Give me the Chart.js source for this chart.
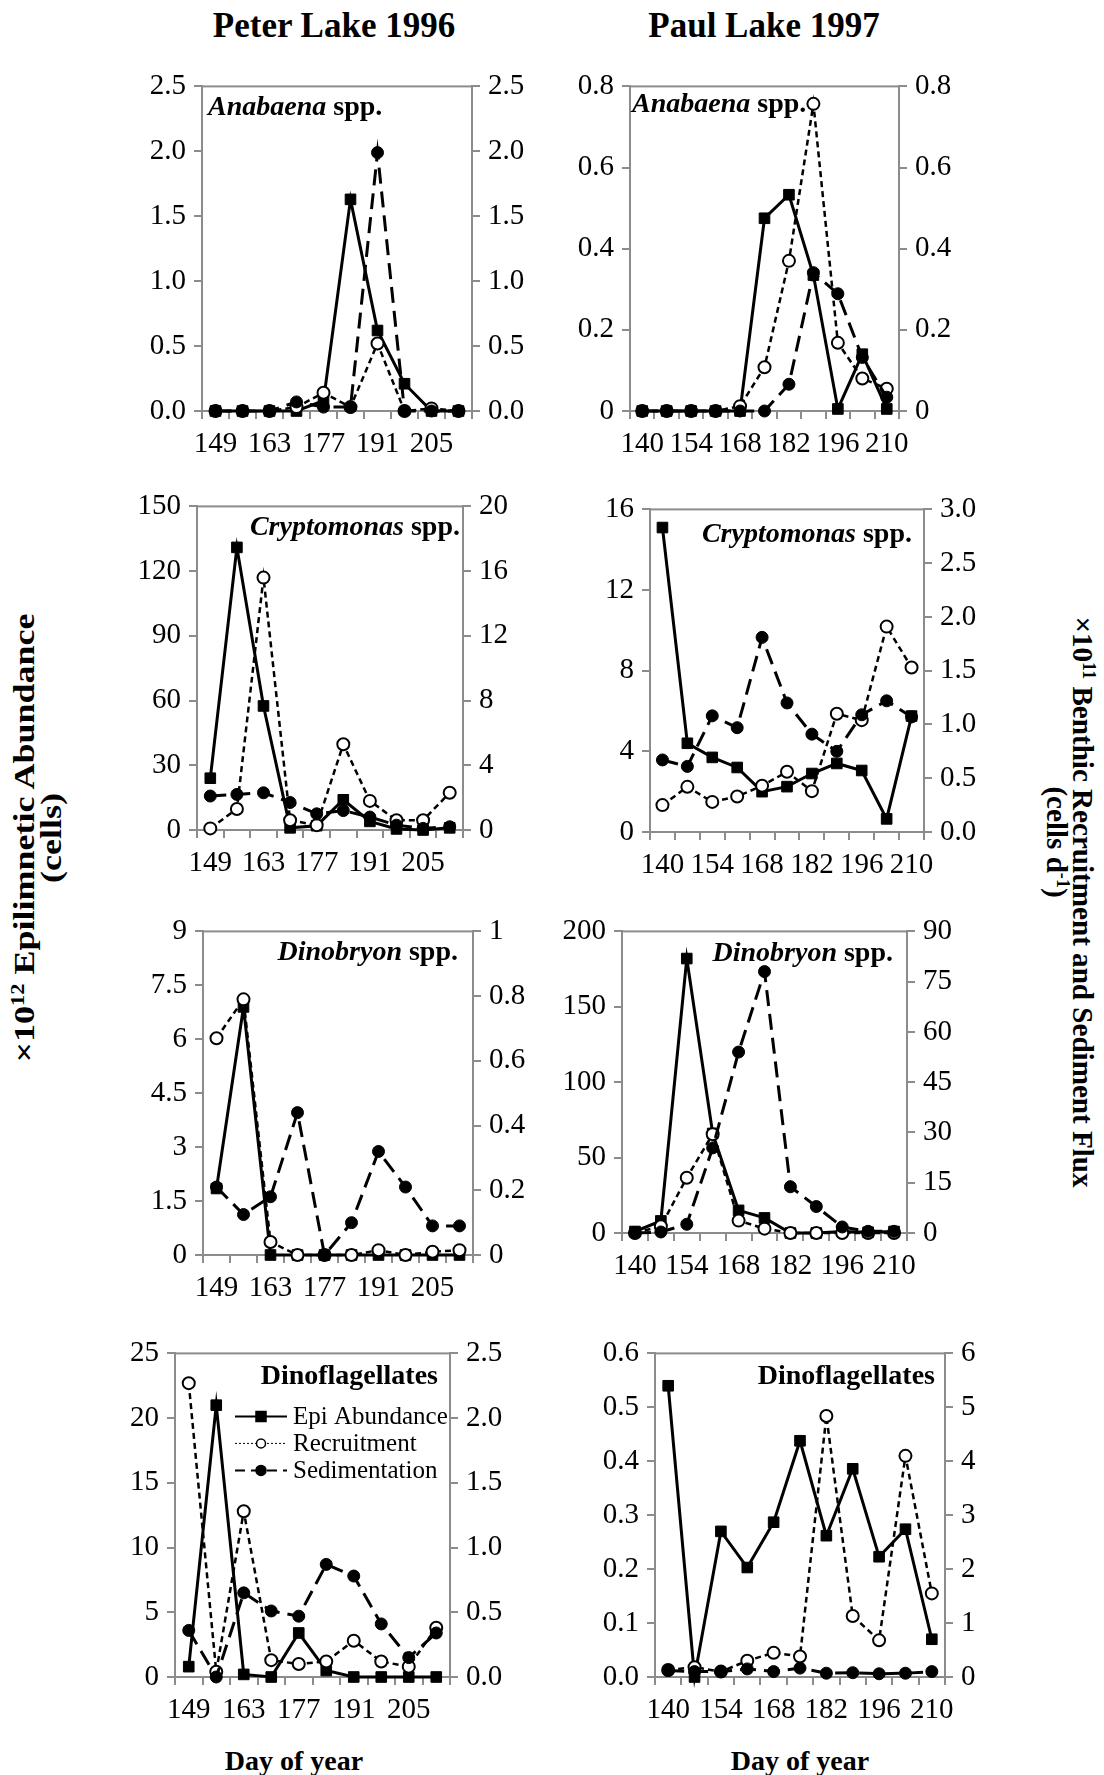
<!DOCTYPE html>
<html>
<head>
<meta charset="utf-8">
<script src="https://cdn.jsdelivr.net/npm/chart.js@4.4.1/dist/chart.umd.min.js"></script>
<style>
  body { margin: 0; width: 1104px; height: 1775px; background: #fff; position: relative; overflow: hidden;
         font-family: 'Liberation Serif', serif; color: #000; }
  canvas { position: absolute; }
  .txt { position: absolute; white-space: nowrap; line-height: 1; font-weight: bold; }
  .head { font-size: 35px; transform: translate(-50%, -50%); }
  .xlab { font-size: 28px; transform: translate(-50%, -50%); }
  .vlab { font-size: 30px; }
  .ptitle { font-size: 28px; }
  sup { font-size: 62%; vertical-align: 0.55em; line-height: 0; }
</style>
</head>
<body>
<div class="txt head" style="left:334px; top:25px">Peter Lake 1996</div>
<div class="txt head" style="left:764px; top:25px">Paul Lake 1997</div>
<div class="txt xlab" style="left:294px; top:1761px">Day of year</div>
<div class="txt xlab" style="left:800px; top:1761px">Day of year</div>
<div class="txt vlab" style="left:24px; top:838px; transform: translate(-50%,-50%) rotate(-90deg) scaleX(1.2)">×10<sup>12</sup> Epilimnetic Abundance</div>
<div class="txt vlab" style="left:51px; top:838px; transform: translate(-50%,-50%) rotate(-90deg) scaleX(1.2)">(cells)</div>
<div class="txt vlab" style="left:1083px; top:902px; transform: translate(-50%,-50%) rotate(90deg) scaleX(0.97)">×10<sup>11</sup> Benthic Recruitment and Sediment Flux</div>
<div class="txt vlab" style="left:1057px; top:842px; transform: translate(-50%,-50%) rotate(90deg) scaleX(0.97)">(cells d<sup>-1</sup>)</div>

<script>
// ── Data ──
const peterDays = [149, 156, 163, 170, 177, 184, 191, 198, 205, 212];
const paulDays = [140, 147, 154, 161, 168, 175, 182, 189, 196, 203, 210];
const seriesNames = ["Epi Abundance", "Recruitment", "Sedimentation"];

// Peter Lake 1996 (epi on left axis, recruitment + sedimentation on right axis)
const peterAnaEpi = [0, 0, 0, 0, 0.08, 1.63, 0.62, 0.21, 0, 0];
const peterAnaRec = [0, 0, 0, 0.03, 0.14, 0.03, 0.52, 0, 0.02, 0];
const peterAnaSed = [0, 0, 0, 0.07, 0.03, 0.03, 1.99, 0, 0, 0];

const peterCryEpi = [24, 131, 57.5, 1, 2, 14, 4, 0.5, 0, 1];
const peterCryRec = [0.1, 1.3, 15.6, 0.6, 0.3, 5.3, 1.8, 0.6, 0.6, 2.3];
const peterCrySed = [2.1, 2.2, 2.3, 1.7, 1.0, 1.2, 0.8, 0.3, 0.1, 0.2];

const peterDinEpi = [1.85, 6.9, 0, 0, 0, 0, 0, 0, 0, 0];
const peterDinRec = [0.67, 0.79, 0.04, 0, 0, 0, 0.015, 0, 0.01, 0.015];
const peterDinSed = [0.21, 0.125, 0.18, 0.44, 0, 0.1, 0.32, 0.21, 0.09, 0.09];

const peterDfEpi = [0.8, 21, 0.2, 0, 3.4, 0.5, 0, 0, 0, 0];
const peterDfRec = [2.27, 0.04, 1.28, 0.13, 0.1, 0.12, 0.28, 0.12, 0.08, 0.38];
const peterDfSed = [0.36, 0, 0.65, 0.51, 0.47, 0.87, 0.78, 0.41, 0.15, 0.34];

// Paul Lake 1997
const paulAnaEpi = [0, 0, 0, 0, 0, 0.475, 0.533, 0.335, 0.005, 0.14, 0.005];
const paulAnaRec = [0, 0, 0, 0, 0.012, 0.108, 0.37, 0.757, 0.168, 0.08, 0.055];
const paulAnaSed = [0, 0, 0, 0, 0, 0, 0.066, 0.341, 0.289, 0.132, 0.034];

const paulCryEpi = [15.1, 4.4, 3.7, 3.2, 2.0, 2.25, 2.9, 3.4, 3.05, 0.65, 5.75];
const paulCryRec = [0.25, 0.42, 0.28, 0.33, 0.43, 0.56, 0.38, 1.10, 1.04, 1.91, 1.53];
const paulCrySed = [0.67, 0.61, 1.08, 0.97, 1.81, 1.20, 0.91, 0.75, 1.09, 1.22, 1.07];

const paulDinEpi = [1, 8, 182, 66, 15, 10, 0, 0, 1, 0.5, 1];
const paulDinRec = [0, 2, 16.5, 29.5, 3.7, 1.3, 0, 0, 0, 0, 0];
const paulDinSed = [0, 0.3, 2.6, 25.4, 54, 78, 13.8, 7.9, 1.8, 0.5, 0.5];

const paulDfEpi = [0.54, 0, 0.27, 0.203, 0.287, 0.438, 0.262, 0.386, 0.223, 0.274, 0.07];
const paulDfRec = [0.13, 0.18, 0.1, 0.3, 0.45, 0.38, 4.84, 1.13, 0.68, 4.1, 1.55];
const paulDfSed = [0.12, 0.1, 0.1, 0.15, 0.1, 0.165, 0.07, 0.08, 0.06, 0.07, 0.1];

// ── Chart defaults ──
Chart.defaults.font.family = "'Liberation Serif', serif";
Chart.defaults.font.size = 29;
Chart.defaults.color = "#000";

const AXIS = "#8c8c8c";
const LW = 76, RW = 76, PT = 22, XH = 52;

const fix1 = v => (Math.round(v * 10) / 10).toFixed(1);
const trim = v => String(Math.round(v * 10) / 10);

// ── Plot frame ──
const framePlugin = {
  id: "frame",
  beforeDatasetsDraw(chart) {
    const { ctx, chartArea: a } = chart;
    ctx.save();
    ctx.strokeStyle = AXIS;
    ctx.lineWidth = 2;
    ctx.strokeRect(a.left, a.top, a.right - a.left, a.bottom - a.top);
    ctx.restore();
  }
};

// ── Legend drawn inside the plot (Excel style: line with marker) ──
const keyPlugin = {
  id: "seriesKey",
  afterDatasetsDraw(chart, args, opts) {
    if (!opts.show) return;
    const { ctx, chartArea: a } = chart;
    const x0 = a.left + 60, x1 = a.left + 112, tx = a.left + 118;
    const styles = [
      { dash: [], width: 2, shape: "rect", fill: "#000" },
      { dash: [2, 2], width: 1, shape: "circle", fill: "#fff" },
      { dash: [10, 6], width: 2, shape: "circle", fill: "#000" },
    ];
    ctx.save();
    seriesNames.forEach((name, i) => {
      const y = a.top + 63 + i * 27;
      const s = styles[i];
      ctx.strokeStyle = "#000";
      ctx.lineWidth = s.width;
      ctx.setLineDash(s.dash);
      ctx.beginPath(); ctx.moveTo(x0, y); ctx.lineTo(x1, y); ctx.stroke();
      ctx.setLineDash([]);
      const cx = (x0 + x1) / 2;
      ctx.fillStyle = s.fill;
      ctx.lineWidth = 1.5;
      ctx.beginPath();
      if (s.shape === "rect") ctx.rect(cx - 5, y - 5, 10, 10);
      else ctx.arc(cx, y, i === 1 ? 4.5 : 5, 0, Math.PI * 2);
      ctx.fill(); ctx.stroke();
      ctx.fillStyle = "#000";
      ctx.font = "25px 'Liberation Serif', serif";
      ctx.textBaseline = "middle";
      ctx.fillText(name, tx, y + 1);
    });
    ctx.restore();
  }
};

function makeSeries(epi, rec, sed) {
  return [
    { label: seriesNames[0], data: epi, yAxisID: "y", order: 3,
      borderColor: "#000", borderWidth: 3, tension: 0,
      pointStyle: "rect", pointRadius: 7.5, pointBackgroundColor: "#000", pointBorderColor: "#000", pointBorderWidth: 1 },
    { label: seriesNames[1], data: rec, yAxisID: "y1", order: 2,
      borderColor: "#000", borderWidth: 2.5, borderDash: [6, 4], tension: 0,
      pointStyle: "circle", pointRadius: 6, pointBackgroundColor: "#fff", pointBorderColor: "#000", pointBorderWidth: 2 },
    { label: seriesNames[2], data: sed, yAxisID: "y1", order: 1,
      borderColor: "#000", borderWidth: 3, borderDash: [16, 8], tension: 0,
      pointStyle: "circle", pointRadius: 6, pointBackgroundColor: "#000", pointBorderColor: "#000", pointBorderWidth: 1 },
  ];
}

function yScale(position, max, step, fmt, width) {
  return {
    position, min: 0, max,
    ticks: { stepSize: step, padding: 8, callback: v => fmt(v) },
    grid: { drawOnChartArea: false, drawTicks: true, tickLength: 8, color: AXIS, lineWidth: 2 },
    border: { display: true, color: AXIS, width: 2 },
    afterFit: s => { s.width = width; },
  };
}

// ── Panels ──
const panels = [
  { days: peterDays, epi: peterAnaEpi, rec: peterAnaRec, sed: peterAnaSed, box: [202, 83, 270, 328],
    left: [2.5, 0.5, fix1], right: [2.5, 0.5, fix1],
    title: ["Anabaena", " spp."], tpos: { left: 208, cy: 106 } },
  { days: paulDays, epi: paulAnaEpi, rec: paulAnaRec, sed: paulAnaSed, box: [630, 83, 269, 328],
    left: [0.8, 0.2, v => v === 0 ? "0" : fix1(v)], right: [0.8, 0.2, v => v === 0 ? "0" : fix1(v)],
    title: ["Anabaena", " spp."], tpos: { left: 632, cy: 103 } },
  { days: peterDays, epi: peterCryEpi, rec: peterCryRec, sed: peterCrySed, box: [197, 503, 266, 327],
    left: [150, 30, trim], right: [20, 4, trim],
    title: ["Cryptomonas", " spp."], tpos: { right: 460, cy: 526 } },
  { days: paulDays, epi: paulCryEpi, rec: paulCryRec, sed: paulCrySed, box: [650, 506, 274, 326],
    left: [16, 4, trim], right: [3, 0.5, fix1],
    title: ["Cryptomonas", " spp."], tpos: { right: 912, cy: 533 } },
  { days: peterDays, epi: peterDinEpi, rec: peterDinRec, sed: peterDinSed, box: [203, 928, 270, 327],
    left: [9, 1.5, trim], right: [1, 0.2, trim],
    title: ["Dinobryon", " spp."], tpos: { right: 458, cy: 951 } },
  { days: paulDays, epi: paulDinEpi, rec: paulDinRec, sed: paulDinSed, box: [622, 928, 285, 305],
    left: [200, 50, trim], right: [90, 15, trim],
    title: ["Dinobryon", " spp."], tpos: { right: 893, cy: 952 } },
  { days: peterDays, epi: peterDfEpi, rec: peterDfRec, sed: peterDfSed, box: [175, 1350, 275, 327],
    left: [25, 5, trim], right: [2.5, 0.5, fix1],
    title: [null, "Dinoflagellates"], tpos: { right: 438, cy: 1375 }, key: true },
  { days: paulDays, epi: paulDfEpi, rec: paulDfRec, sed: paulDfSed, box: [655, 1350, 290, 327],
    left: [0.6, 0.1, fix1], right: [6, 1, trim],
    title: [null, "Dinoflagellates"], tpos: { right: 935, cy: 1375 } },
];

panels.forEach(p => {
  const [bx, by, bw, bh] = p.box;
  const canvas = document.createElement("canvas");
  canvas.width = LW + bw + RW;
  canvas.height = PT + bh + XH;
  canvas.style.left = (bx - LW) + "px";
  canvas.style.top = (by - PT) + "px";
  document.body.appendChild(canvas);

  new Chart(canvas, {
    type: "line",
    data: { labels: p.days.map(String), datasets: makeSeries(p.epi, p.rec, p.sed) },
    options: {
      responsive: false,
      animation: false,
      clip: false,
      layout: { padding: { top: PT, left: 0, right: 0, bottom: 0 } },
      plugins: { legend: { display: false }, tooltip: { enabled: false }, seriesKey: { show: !!p.key } },
      scales: {
        x: {
          type: "category", offset: true,
          ticks: { autoSkip: false, maxRotation: 0, padding: 8,
            callback: function (v, i) { return i % 2 === 0 ? this.getLabelForValue(v) : ""; } },
          grid: { offset: true, drawOnChartArea: false, drawTicks: true, tickLength: 8, color: AXIS, lineWidth: 2 },
          border: { display: true, color: AXIS, width: 2 },
          afterFit: s => { s.height = XH; },
        },
        y: yScale("left", p.left[0], p.left[1], p.left[2], LW),
        y1: yScale("right", p.right[0], p.right[1], p.right[2], RW),
      },
    },
    plugins: [framePlugin, keyPlugin],
  });

  // panel title
  const t = document.createElement("div");
  t.className = "txt ptitle";
  t.innerHTML = p.title[0] ? `<i>${p.title[0]}</i>${p.title[1]}` : p.title[1];
  t.style.top = (p.tpos.cy - 14) + "px";
  if (p.tpos.left !== undefined) t.style.left = p.tpos.left + "px";
  else t.style.right = (1104 - p.tpos.right) + "px";
  document.body.appendChild(t);
});
</script>
</body>
</html>
